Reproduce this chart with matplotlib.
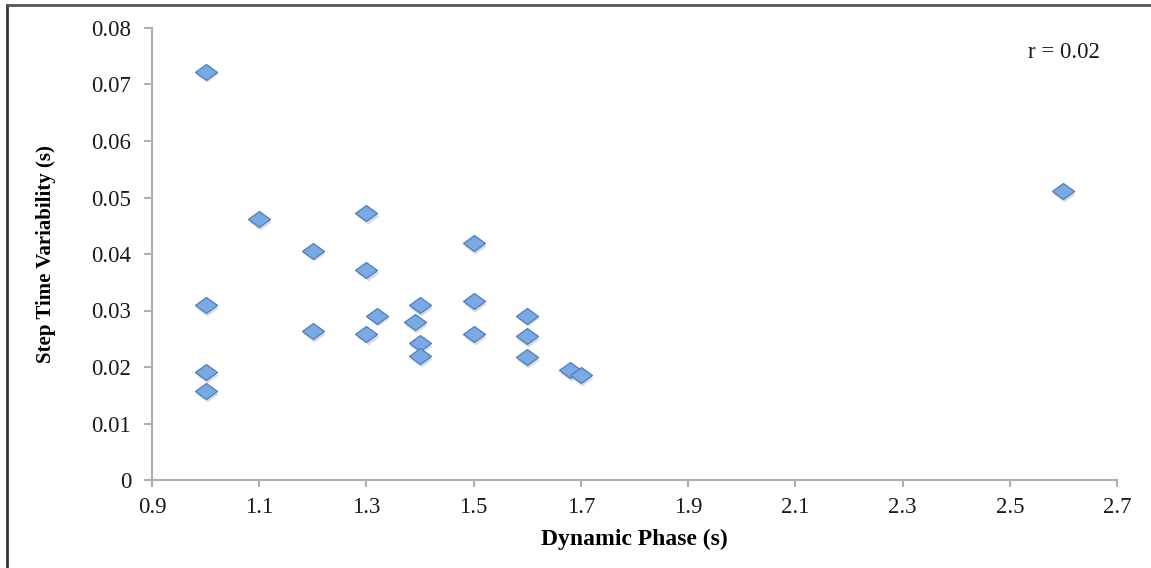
import numpy as np
import matplotlib.pyplot as plt
from matplotlib.lines import Line2D

# Dynamic phase (s) vs step time variability (s)
dynamic_phase = [1.0, 1.0, 1.0, 1.0, 1.1, 1.2, 1.2, 1.3, 1.3, 1.3, 1.32, 1.39,
                 1.4, 1.4, 1.4, 1.5, 1.5, 1.5, 1.6, 1.6, 1.6, 1.68, 1.7, 2.6]
step_time_var = [0.0723, 0.0310, 0.0191, 0.0158, 0.0462, 0.0406, 0.0263,
                 0.0472, 0.0371, 0.0258, 0.0291, 0.0279, 0.0309, 0.0242,
                 0.0219, 0.0419, 0.0317, 0.0258, 0.0291, 0.0255, 0.0218,
                 0.0195, 0.0186, 0.0511]

x_ticks = [0.9, 1.1, 1.3, 1.5, 1.7, 1.9, 2.1, 2.3, 2.5, 2.7]
y_ticks = [0, 0.01, 0.02, 0.03, 0.04, 0.05, 0.06, 0.07, 0.08]
y_tick_labels = ['0', '0.01', '0.02', '0.03', '0.04', '0.05', '0.06', '0.07', '0.08']

plt.rcParams['font.family'] = ['Liberation Serif', 'DejaVu Serif']

W, H = 1151, 568
fig = plt.figure(figsize=(W / 100, H / 100), dpi=100)
ax = fig.add_axes([152 / W, 1 - 480 / H, (1117 - 152) / W, (480 - 28) / H])

# flat diamond marker, wider than tall
diamond = [(-1, 0), (0, 0.72), (1, 0), (0, -0.72), (-1, 0)]

# soft shadow under each point
x = np.array(dynamic_phase)
y = np.array(step_time_var)
ax.scatter(x + 0.002, y - 0.0005, marker=diamond, s=250, color='#9a9a9a',
           alpha=0.35, linewidths=0, zorder=2)
ax.scatter(x, y, marker=diamond, s=250, facecolor='#7aaae4',
           edgecolor='#5283c2', linewidths=1.0, zorder=3)

ax.set_xlim(0.9, 2.7)
ax.set_ylim(0, 0.08)
ax.set_xticks(x_ticks)
ax.set_xticklabels([f'{t:.1f}' for t in x_ticks])
ax.set_yticks(y_ticks)
ax.set_yticklabels(y_tick_labels)

for side in ['top', 'right']:
    ax.spines[side].set_visible(False)
for side in ['left', 'bottom']:
    ax.spines[side].set_color('#b0b0b0')
    ax.spines[side].set_linewidth(1.5)

ax.tick_params(axis='both', colors='#b0b0b0', width=1.5, length=6,
               labelsize=16.5, labelcolor='#1a1a1a')
ax.tick_params(axis='x', pad=7, length=5)
ax.tick_params(axis='y', pad=9)

ax.set_xlabel('Dynamic Phase (s)', fontsize=17, fontweight='bold', labelpad=8)
ax.set_ylabel('Step Time Variability (s)', fontsize=15, fontweight='bold', labelpad=25)

ax.text(0.945, 0.945, 'r = 0.02', transform=ax.transAxes, fontsize=16.5,
        ha='center', va='center', color='#1a1a1a')

# outer frame (left and top only)
fig.add_artist(Line2D([6.5 / W, 6.5 / W], [0, 1 - 5 / H], transform=fig.transFigure,
                      color='#333333', linewidth=2))
fig.add_artist(Line2D([6.5 / W, 1], [1 - 5 / H, 1 - 5 / H], transform=fig.transFigure,
                      color='#555555', linewidth=2))

fig.savefig('out.png', dpi=100)
